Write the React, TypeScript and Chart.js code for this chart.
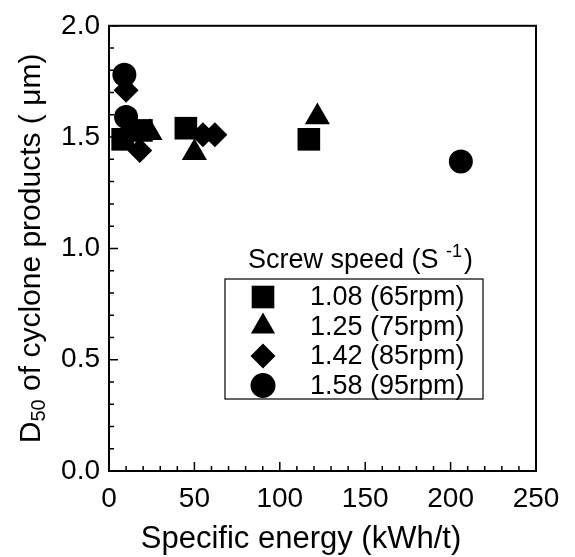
import React, { useEffect, useRef } from "react";
import { Chart, registerables } from "chart.js";

Chart.register(...registerables);

// ---- data ----
const seriesLabels = ["1.08 (65rpm)", "1.25 (75rpm)", "1.42 (85rpm)", "1.58 (95rpm)"];
const seriesStyles = ["rect", "triangle", "rectRot", "circle"];
const seriesRadius = [16, 14.5, 12.5, 12];

const squareX = [8, 19, 45, 117];
const squareY = [1.49, 1.53, 1.54, 1.49];
const triangleX = [24, 50, 122];
const triangleY = [1.52, 1.43, 1.59];
const diamondX = [10, 18, 55, 62];
const diamondY = [1.71, 1.44, 1.51, 1.51];
const circleX = [9, 10, 206];
const circleY = [1.78, 1.59, 1.39];

const xTickValues = [0, 50, 100, 150, 200, 250];
const yTickValues = [0, 0.5, 1.0, 1.5, 2.0];

const xTitle = "Specific energy (kWh/t)";
const yTitleMain = "D";
const yTitleSub = "50";
const yTitleRest = " of cyclone products ( \u03bcm)";
const legendTitle = "Screw speed (S ";
const legendTitleSup = "-1";
const legendTitleEnd = ")";

const FONT = "'Liberation Sans', Arial, Helvetica, sans-serif";

function toPoints(xs: number[], ys: number[]) {
  return xs.map((x, i) => ({ x, y: ys[i] }));
}

function drawMarker(ctx: CanvasRenderingContext2D, style: string, x: number, y: number, r: number) {
  ctx.beginPath();
  if (style === "rect") {
    const s = Math.SQRT1_2 * r;
    ctx.rect(x - s, y - s, 2 * s, 2 * s);
  } else if (style === "triangle") {
    ctx.moveTo(x, y - r);
    ctx.lineTo(x + Math.sin((2 * Math.PI) / 3) * r, y + 0.5 * r);
    ctx.lineTo(x - Math.sin((2 * Math.PI) / 3) * r, y + 0.5 * r);
    ctx.closePath();
  } else if (style === "rectRot") {
    ctx.moveTo(x, y - r);
    ctx.lineTo(x + r, y);
    ctx.lineTo(x, y + r);
    ctx.lineTo(x - r, y);
    ctx.closePath();
  } else {
    ctx.arc(x, y, r, 0, Math.PI * 2);
  }
  ctx.fill();
}

const framePlugin = {
  id: "frameAndExtras",
  beforeDatasetsDraw(chart: any) {
    const { ctx, chartArea: a, scales } = chart;
    const xs = scales.x;
    const ys = scales.y;
    ctx.save();
    ctx.strokeStyle = "#000";
    ctx.lineWidth = 2;
    ctx.strokeRect(a.left, a.top, a.right - a.left, a.bottom - a.top);
    ctx.lineWidth = 1.5;
    ctx.beginPath();
    for (let v = 0; v <= 250; v += 10) {
      const px = xs.getPixelForValue(v);
      const len = v % 50 === 0 ? 9 : 5;
      ctx.moveTo(px, a.bottom);
      ctx.lineTo(px, a.bottom - len);
    }
    for (let i = 0; i <= 20; i++) {
      const py = ys.getPixelForValue(i / 10);
      const len = i % 5 === 0 ? 9 : 5;
      ctx.moveTo(a.left, py);
      ctx.lineTo(a.left + len, py);
    }
    ctx.stroke();
    ctx.restore();
  },
  afterDraw(chart: any) {
    const { ctx, chartArea: a } = chart;
    const xTitleFont = `31px ${FONT}`;
    const titleFont = `30px ${FONT}`;
    const subFont = `20px ${FONT}`;
    const legFont = `27px ${FONT}`;
    const supFont = `18px ${FONT}`;

    // x-axis title
    ctx.save();
    ctx.fillStyle = "#000";
    ctx.font = xTitleFont;
    ctx.textAlign = "center";
    ctx.textBaseline = "middle";
    ctx.fillText(xTitle, 301, 539);
    ctx.restore();

    // y-axis title with subscript
    ctx.save();
    ctx.fillStyle = "#000";
    ctx.translate(32, (a.top + a.bottom) / 2);
    ctx.rotate(-Math.PI / 2);
    ctx.textBaseline = "middle";
    ctx.font = titleFont;
    const w1 = ctx.measureText(yTitleMain).width;
    const w3 = ctx.measureText(yTitleRest).width;
    ctx.font = subFont;
    const w2 = ctx.measureText(yTitleSub).width;
    const total = w1 + w2 + w3;
    let cx = -total / 2;
    ctx.textAlign = "left";
    ctx.font = titleFont;
    ctx.fillText(yTitleMain, cx, 0);
    cx += w1;
    ctx.font = subFont;
    ctx.fillText(yTitleSub, cx, 7);
    cx += w2;
    ctx.font = titleFont;
    ctx.fillText(yTitleRest, cx, 0);
    ctx.restore();

    // legend
    ctx.save();
    ctx.fillStyle = "#000";
    ctx.textBaseline = "alphabetic";
    ctx.textAlign = "left";
    ctx.font = legFont;
    let tx = 248;
    const ty = 268;
    ctx.fillText(legendTitle, tx, ty);
    tx += ctx.measureText(legendTitle).width;
    ctx.font = supFont;
    ctx.fillText(legendTitleSup, tx, ty - 11);
    tx += ctx.measureText(legendTitleSup).width + 2;
    ctx.font = legFont;
    ctx.fillText(legendTitleEnd, tx, ty);

    ctx.strokeStyle = "#000";
    ctx.lineWidth = 1.2;
    ctx.strokeRect(225, 279, 258, 120);
    const legendR = [16, 14, 12.5, 12.5];
    ctx.textBaseline = "middle";
    for (let i = 0; i < seriesLabels.length; i++) {
      const rowY = 297 + i * 29.5;
      drawMarker(ctx, seriesStyles[i], 263, rowY, legendR[i]);
      ctx.fillText(seriesLabels[i], 310, rowY + 1);
    }
    ctx.restore();
  },
};

export default function App() {
  const ref = useRef<HTMLCanvasElement | null>(null);
  useEffect(() => {
    if (!ref.current) return;
    const mk = (i: number, xs: number[], ys: number[]) => ({
      label: seriesLabels[i],
      data: toPoints(xs, ys),
      pointStyle: seriesStyles[i],
      pointRadius: seriesRadius[i],
      pointHoverRadius: seriesRadius[i],
      backgroundColor: "#000",
      borderColor: "#000",
      borderWidth: 0,
      clip: false,
    });
    const chart = new Chart(ref.current, {
      type: "scatter",
      data: {
        datasets: [
          mk(0, squareX, squareY),
          mk(1, triangleX, triangleY),
          mk(2, diamondX, diamondY),
          mk(3, circleX, circleY),
        ],
      },
      options: {
        animation: false,
        responsive: false,
        maintainAspectRatio: false,
        layout: { padding: { left: 0, top: 23, right: 39, bottom: 0 } },
        plugins: { legend: { display: false }, tooltip: { enabled: false } },
        scales: {
          x: {
            type: "linear",
            min: 0,
            max: 250,
            afterBuildTicks: (s: any) => {
              s.ticks = xTickValues.map((v) => ({ value: v }));
            },
            afterFit: (s: any) => {
              s.height = 86;
            },
            grid: { display: false, drawTicks: false },
            border: { display: false },
            ticks: { color: "#000", font: { family: FONT, size: 28 }, padding: 11, maxRotation: 0 },
          },
          y: {
            type: "linear",
            min: 0,
            max: 2,
            afterBuildTicks: (s: any) => {
              s.ticks = yTickValues.map((v) => ({ value: v }));
            },
            afterFit: (s: any) => {
              s.width = 109;
            },
            grid: { display: false, drawTicks: false },
            border: { display: false },
            ticks: {
              color: "#000",
              font: { family: FONT, size: 28 },
              padding: 9,
              callback: (v: any) => Number(v).toFixed(1),
            },
          },
        },
      },
      plugins: [framePlugin],
    });
    return () => chart.destroy();
  }, []);
  return (
    <div style={{ position: "fixed", left: 0, top: 0, width: 575, height: 557, background: "#fff" }}>
      <canvas ref={ref} width={575} height={557} style={{ width: 575, height: 557, display: "block" }} />
    </div>
  );
}
